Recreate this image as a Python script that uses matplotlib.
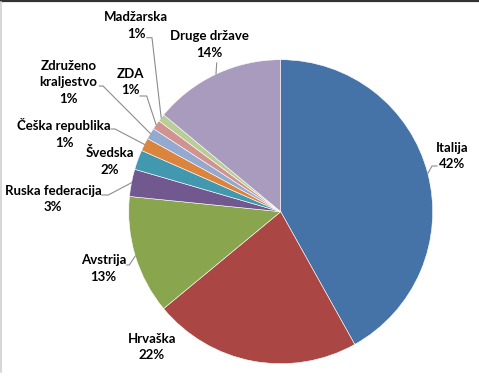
import matplotlib

matplotlib.use("Agg")
import matplotlib.pyplot as plt
import numpy as np

# data (share of total, %), clockwise from 12 o'clock
countries = ["Italija", "Hrvaška", "Avstrija", "Ruska federacija", "Švedska",
             "Češka republika", "Združeno\nkraljestvo", "ZDA", "Madžarska",
             "Druge države"]
shares = [41.9, 22.1, 12.6, 2.9, 2.1, 1.4, 1.2, 1.0, 0.8, 14.0]
colors = ["#4572A7", "#AA4643", "#89A54E", "#71588F", "#4198AF",
          "#DB843D", "#93A9CF", "#D19392", "#B9CD96", "#A99BBD"]

# layout in pixels (y measured from top)
W, H = 479, 376
CX, CY, R = 280.7, 211.7, 152
label_pos = [(452, 156), (151.7, 347), (103.3, 268.7), (53.3, 199),
             (110, 161), (64.3, 133.3), (68.3, 82.3), (130.7, 82),
             (136, 25.3), (209, 44.3)]
leaders = [[(437, 166), (432, 166)], None, [(126.7, 265), (129.3, 265)],
           [(101.7, 195), (108.3, 195)], None, [(111, 129), (115, 129)],
           [(99.3, 86), (103, 86)], [(140, 96), (146.7, 96)],
           [(147, 37.7), (152, 37.7)], [(216.7, 63)]]

fig = plt.figure(figsize=(W / 100, H / 100), dpi=100)
ax = fig.add_axes([0, 0, 1, 1])
ax.set_xlim(0, W)
ax.set_ylim(0, H)
ax.set_aspect("equal")
ax.axis("off")

wedges, _ = ax.pie(shares, colors=colors, startangle=90, counterclock=False,
                   center=(CX, H - CY), radius=R,
                   wedgeprops={"edgecolor": "white", "linewidth": 0.4})
ax.set_xlim(0, W)
ax.set_ylim(0, H)

for w, name, val, (lx, ly), ld in zip(wedges, countries, shares, label_pos, leaders):
    ax.text(lx, H - ly, f"{name}\n{val:.0f}%", ha="center", va="center",
            fontsize=9.5, fontweight="bold", family="Lato", color="black",
            linespacing=1.45)
    if ld is None:
        continue
    mid = np.deg2rad((w.theta1 + w.theta2) / 2)
    ex, ey = CX + R * np.cos(mid), H - CY + R * np.sin(mid)
    xs = [p[0] for p in ld] + [ex]
    ys = [H - p[1] for p in ld] + [ey]
    ax.plot(xs, ys, color="#8c8c8c", lw=0.8, zorder=1)

# frame edges
ax.plot([0, 478.5], [H - 0.8, H - 0.8], color="#333333", lw=1.6, clip_on=False)
ax.plot([1.5, 1.5], [H - 2, 4], color="#d0d0d0", lw=1.2)

fig.savefig("out.png", dpi=100)
